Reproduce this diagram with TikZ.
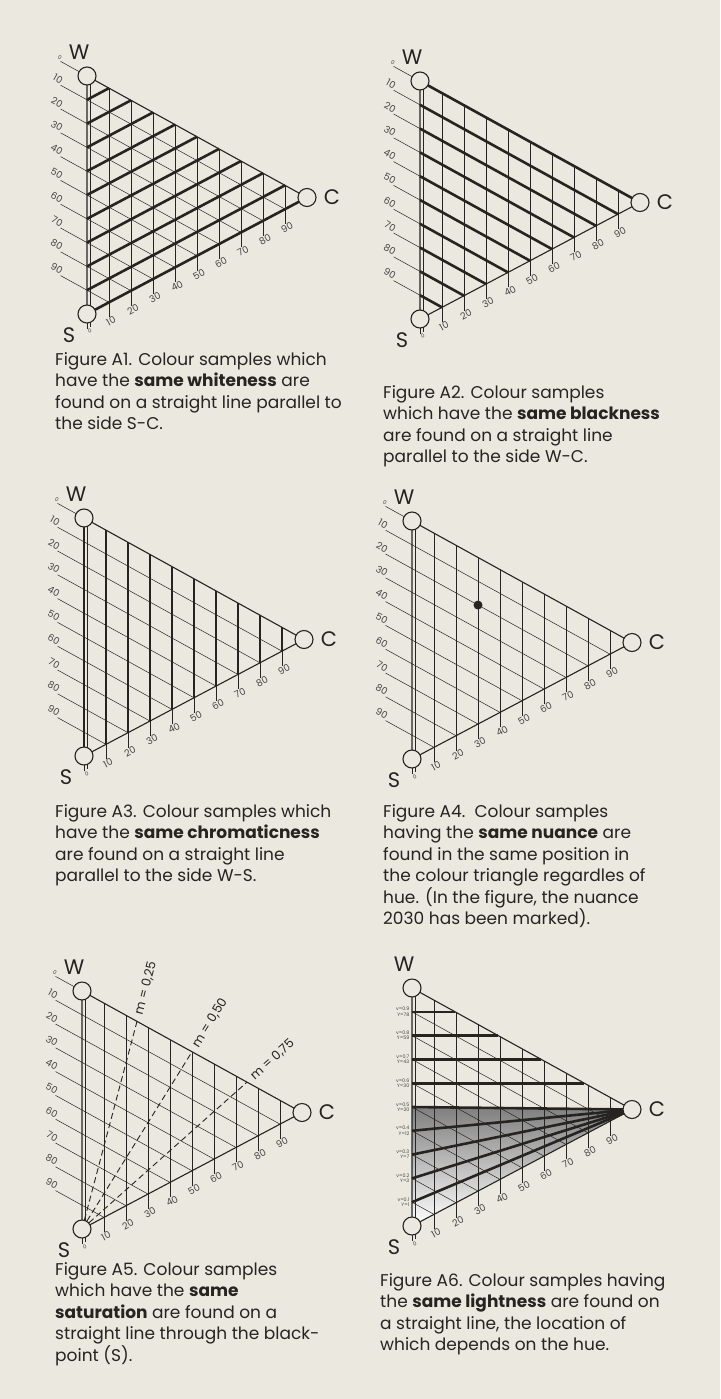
\documentclass[tikz,border=0pt]{standalone}
\usepackage{fontspec}
\setmainfont{Poppins}
\usetikzlibrary{calc}

\definecolor{paper}{RGB}{234,232,223}
\definecolor{ink}{RGB}{38,36,33}
\definecolor{shade}{RGB}{160,158,152}

% triangle size: W at (0,0), S at (0,\th), C at (\tw,\tc)
\def\tw{220}
\def\th{238}
\def\tc{121.5}

\tikzset{
  gridline/.style={ink, line width=0.5pt},
  edge/.style={ink, line width=1.1pt},
  heavy/.style={ink, line width=2.6pt},
  dashline/.style={ink, line width=0.9pt, dash pattern=on 6pt off 3.5pt},
  vtx/.style={circle, draw=ink, fill=paper, line width=1.1pt, minimum size=18pt, inner sep=0pt},
  corner/.style={font=\fontsize{21}{21}\selectfont, text=ink},
  num/.style={font=\fontsize{9.5}{9.5}\selectfont, text=ink!85, inner sep=0.5pt},
  zero/.style={font=\fontsize{5.5}{5.5}\selectfont, text=ink!85, inner sep=0.5pt},
  vlabel/.style={font=\fontsize{4.8}{5.2}\selectfont, text=ink!85, align=right, inner sep=0.5pt},
  mlabel/.style={font=\fontsize{12.5}{12.5}\selectfont, text=ink, inner sep=0.5pt},
  caption/.style={font=\fontsize{17}{21.5}\selectfont, text=ink, align=left, anchor=north west, inner sep=0pt},
}

% thin grid: blackness lines, chromaticness lines, scale at the bottom
\newcommand{\ncsgrid}{%
  \foreach \k in {1,...,9}{
    \draw[gridline] (0,{\th*\k/10}) -- ({\tw*(1-\k/10)},{\th*\k/10+\tc*(1-\k/10)});
    \draw[gridline] ({\tw*\k/10},{\tc*\k/10}) -- ({\tw*\k/10},{\th*(1-\k/10)+\tc*\k/10+15});
    \node[num, rotate=28, anchor=north] (b\k) at ({\tw*\k/10},{\th*(1-\k/10)+\tc*\k/10+15}) {\k0};
  }
  \draw[gridline] (3.5,{\tc*3.5/\tw}) -- (3.5,{\th*(1-3.5/\tw)+\tc*3.5/\tw+15});
  \draw[gridline] (0,\th) -- (0,\th+15);
  \node[zero, rotate=28, anchor=north] (b0) at (1.5,\th+15) {0};
}

% blackness scale on the left
\newcommand{\ncsleft}{%
  \foreach \k in {1,...,9}{
    \draw[gridline] ({-\tw*0.12},{\th*\k/10-\tc*0.12}) -- (0,{\th*\k/10});
    \node[num, rotate=-29, anchor=south east] (l\k) at ({-\tw*0.12},{\th*\k/10-\tc*0.12}) {\k0};
  }
  \draw[gridline] ({-\tw*0.12},{-\tc*0.12}) -- (0,0);
  \node[zero, rotate=-29, anchor=south east] (l0) at ({-\tw*0.12},{-\tc*0.12}) {0};
}

% edges, corner circles and letters
\newcommand{\ncsframe}{%
  \draw[edge] (0,0) -- (\tw,\tc) -- (0,\th) -- cycle;
  \node[vtx] (W) at (0,0) {};
  \node[vtx] (C) at (\tw,\tc) {};
  \node[vtx] (S) at (0,\th) {};
  \node[corner] (lW) at (-8,-24) {W};
  \node[corner] (lC) at (\tw+25,\tc) {C};
  \node[corner] (lS) at (-18,\th+21) {S};
}

\begin{document}
\begin{tikzpicture}[x=1pt,y=-1pt]
\path[use as bounding box, fill=paper] (0,0) rectangle (720,1399);

% Figure A1 - whiteness
\begin{scope}[shift={(87,76)}]
\ncsgrid
\ncsleft
\foreach \k in {1,...,9}
  \draw[heavy] (0,{\th*\k/10}) -- ({\tw*\k/10},{\tc*\k/10});
\draw[heavy] (0,\th) -- (\tw,\tc);
\ncsframe
\end{scope}
\node[caption] (capA1) at (55,352)
{Figure A1. Colour samples which\\have the \textbf{same whiteness} are\\found on a straight line parallel to\\the side S-C.};

% Figure A2 - blackness
\begin{scope}[shift={(420,81)}]
\ncsgrid
\ncsleft
\foreach \k in {0,...,9}
  \draw[heavy] (0,{\th*\k/10}) -- ({\tw*(1-\k/10)},{\th*\k/10+\tc*(1-\k/10)});
\ncsframe
\end{scope}
\node[caption] (capA2) at (383,385)
{Figure A2. Colour samples\\which have the \textbf{same blackness}\\are found on a straight line\\parallel to the side W-C.};

% Figure A3 - chromaticness
\begin{scope}[shift={(84,518)}]
\ncsgrid
\ncsleft
\foreach \k in {0,...,9}
  \draw[heavy] ({\tw*\k/10},{\tc*\k/10}) -- ({\tw*\k/10},{\th*(1-\k/10)+\tc*\k/10});
\ncsframe
\end{scope}
\node[caption] (capA3) at (55,804)
{Figure A3. Colour samples which\\have the \textbf{same chromaticness}\\are found on a straight line\\parallel to the side W-S.};

% Figure A4 - nuance
\begin{scope}[shift={(412,521)}]
\ncsgrid
\ncsleft
\ncsframe
\fill[ink] ({\tw*0.3},{\th*0.2+\tc*0.3}) circle (4.5) node (n2030) {};
\end{scope}
\node[caption] (capA4) at (383,804)
{Figure A4.\ \ Colour samples\\having the \textbf{same nuance} are\\found in the same position in\\the colour triangle regardles of\\hue. (In the figure, the nuance\\2030 has been marked).};

% Figure A5 - saturation
\begin{scope}[shift={(82,991)}]
\ncsgrid
\ncsleft
\coordinate (Sv) at (0,\th);
\foreach \m/\t in {0.25/{0,25},0.50/{0,50},0.75/{0,75}}{
  \coordinate (E) at ({\tw*\m},{\tc*\m});
  \draw[dashline] (Sv) -- (E);
  \path (E) -- ($(E)!-68pt!(Sv)$) node[midway, sloped, mlabel] {m = \t};
}
\ncsframe
\end{scope}
\node[caption] (capA5) at (55,1262)
{Figure A5. Colour samples\\which have the \textbf{same}\\\textbf{saturation} are found on a\\straight line through the black-\\point (S).};

% Figure A6 - lightness
\begin{scope}[shift={(412,988)}]
\fill[shade] (0,{\th*0.5}) -- (\tw,\tc) -- (0,\th) -- cycle;
\ncsgrid
\foreach \k/\v/\y in {1/0.9/78,2/0.8/59,3/0.7/43,4/0.6/30,5/0.5/20,6/0.4/12,7/0.3/7,8/0.2/3,9/0.1/1}
  \node[vlabel, anchor=east] (v\k) at (-2,{\th*\k/10}) {v=\v\\Y=\y};
\foreach \k in {1,...,4}
  \draw[heavy] (0,{\th*\k/10}) -- ({\tw/\tc*\th*\k/10},{\th*\k/10});
\foreach \k in {5,...,9}
  \draw[heavy] (0,{\th*\k/10}) -- (\tw,\tc);
\ncsframe
\end{scope}
\node[caption] (capA6) at (380,1273)
{Figure A6. Colour samples having\\the \textbf{same lightness} are found on\\a straight line, the location of\\which depends on the hue.};

\end{tikzpicture}
\end{document}
